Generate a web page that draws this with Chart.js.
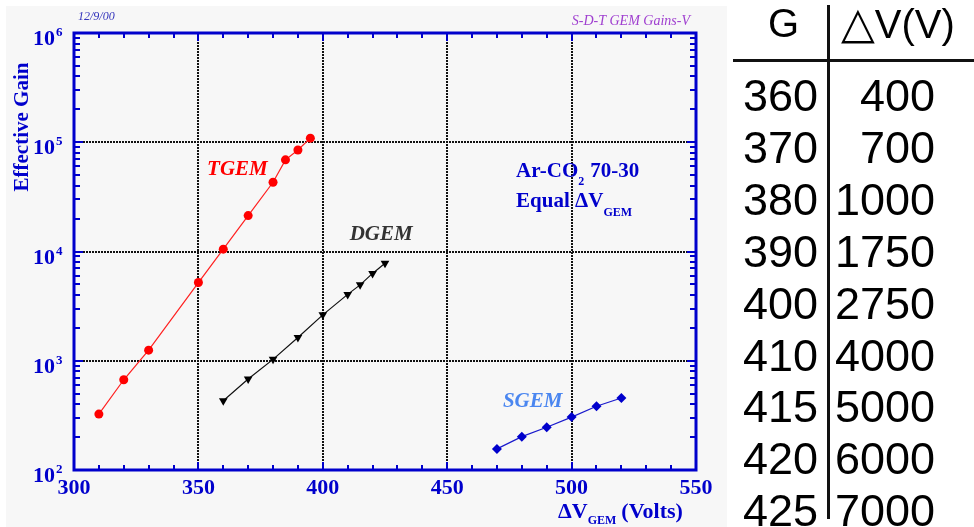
<!DOCTYPE html>
<html lang="en">
<head>
    <meta charset="UTF-8">
    <title>S-D-T GEM Gains-V</title>
    <style>
        body {
            margin: 0;
            background: #fff;
            width: 974px;
            height: 527px;
            overflow: hidden;
            position: relative;
        }
        #panel {
            position: absolute;
            left: 6px;
            top: 6px;
            width: 721px;
            height: 521px;
            background: #f7f7f7;
        }
        #graph {
            position: absolute;
            left: 0;
            top: 0;
        }
        #table {
            position: absolute;
            left: 0;
            top: 0;
            width: 974px;
            height: 527px;
            font-family: 'Liberation Sans', Arial, sans-serif;
            color: #000;
        }
        .cell {
            position: absolute;
            font-size: 45px;
            line-height: 1;
            white-space: nowrap;
        }
        .head {
            font-size: 40px;
        }
        .vline {
            position: absolute;
            left: 827px;
            top: 5px;
            width: 3px;
            height: 514px;
            background: #111;
        }
        .hline {
            position: absolute;
            left: 733px;
            top: 59px;
            width: 241px;
            height: 3px;
            background: #111;
        }
    </style>
    <script src="https://cdn.jsdelivr.net/npm/chart.js"></script>
</head>
<body>
    <div id="panel"></div>
    <canvas id="graph" width="730" height="527"></canvas>
    <div id="table">
        <div class="vline"></div>
        <div class="hline"></div>
    </div>
    <script>
        // data
        const tgemV = [310, 320, 330, 350, 360, 370, 380, 385, 390, 395];
        const tgemGain = [325, 670, 1250, 5200, 10500, 21300, 43000, 69000, 85000, 109000];
        const dgemV = [360, 370, 380, 390, 400, 410, 415, 420, 425];
        const dgemGain = [430, 680, 1030, 1630, 2630, 4050, 4950, 6300, 7800];
        const sgemV = [470, 480, 490, 500, 510, 520];
        const sgemGain = [156, 202, 246, 305, 383, 456];

        // table on the right
        const tableG = [360, 370, 380, 390, 400, 410, 415, 420, 425];
        const tableDV = [400, 700, 1000, 1750, 2750, 4000, 5000, 6000, 7000];

        const xTicks = [300, 350, 400, 450, 500, 550];
        const yDecades = [2, 3, 4, 5, 6];

        const BLUE = '#0000cc';
        const SERIF = "'Liberation Serif', 'Times New Roman', serif";

        // build the table
        const table = document.getElementById('table');
        function addCell(text, left, right, top, cls) {
            const d = document.createElement('div');
            d.className = 'cell' + (cls ? ' ' + cls : '');
            d.innerHTML = text;
            if (right !== null) {
                d.style.right = (974 - right) + 'px';
                d.style.textAlign = 'right';
            } else {
                d.style.left = left + 'px';
            }
            d.style.top = top + 'px';
            table.appendChild(d);
        }
        addCell('G', 768, null, 3, 'head');
        addCell('<span style="font-family:\'DejaVu Sans\';font-size:44px">&#9651;</span>V(V)', 841, null, 1, 'head');
        tableG.forEach((g, i) => {
            const top = 73 + i * 51.9;
            addCell(String(g), null, 818, top);
            addCell(String(tableDV[i]), null, 935, top);
        });

        function drawSub(ctx, parts, x, y) {
            // parts: [text, size, dy, gap]
            ctx.textAlign = 'left';
            ctx.textBaseline = 'alphabetic';
            parts.forEach(p => {
                ctx.font = 'bold ' + p[1] + 'px ' + SERIF;
                ctx.fillText(p[0], x, y + p[2]);
                x += ctx.measureText(p[0]).width + (p[3] || 0);
            });
        }

        const framePlugin = {
            id: 'frame',
            beforeDatasetsDraw(chart) {
                const ctx = chart.ctx;
                const a = chart.chartArea;
                const xs = chart.scales.x;
                const ys = chart.scales.y;
                ctx.save();
                ctx.strokeStyle = BLUE;
                ctx.lineWidth = 2;
                ctx.beginPath();
                // x ticks, bottom and top
                for (let v = 310; v < 550; v += 10) {
                    const px = Math.round(xs.getPixelForValue(v));
                    const len = v % 50 === 0 ? 8 : 5;
                    ctx.moveTo(px, a.bottom);
                    ctx.lineTo(px, a.bottom - len);
                    ctx.moveTo(px, a.top);
                    ctx.lineTo(px, a.top + len);
                }
                // y ticks, left and right
                for (let d = 2; d < 6; d++) {
                    for (let m = 1; m < 10; m++) {
                        if (d === 2 && m === 1) continue;
                        const py = Math.round(ys.getPixelForValue(m * Math.pow(10, d)));
                        const len = m === 1 ? 9 : 6;
                        ctx.moveTo(a.left, py);
                        ctx.lineTo(a.left + len, py);
                        ctx.moveTo(a.right, py);
                        ctx.lineTo(a.right - len, py);
                    }
                }
                ctx.stroke();
                ctx.lineWidth = 3;
                ctx.strokeRect(a.left, a.top, a.right - a.left, a.bottom - a.top);

                // y tick labels 10^n
                ctx.fillStyle = BLUE;
                yDecades.forEach(e => {
                    const py = ys.getPixelForValue(Math.pow(10, e));
                    ctx.font = 'bold 22px ' + SERIF;
                    ctx.textAlign = 'right';
                    ctx.textBaseline = 'alphabetic';
                    ctx.fillText('10', 55, py + 12);
                    ctx.font = 'bold 13px ' + SERIF;
                    ctx.textAlign = 'left';
                    ctx.fillText(String(e), 56, py + 3);
                });

                // y title
                ctx.save();
                ctx.translate(28, 127);
                ctx.rotate(-Math.PI / 2);
                ctx.font = 'bold 21px ' + SERIF;
                ctx.textAlign = 'center';
                ctx.fillText('Effective Gain', 0, 0);
                ctx.restore();

                // x title
                drawSub(ctx, [['\u0394V', 22, 0], ['GEM', 12, 6, 5], ['(Volts)', 22, 0]], 558, 518);

                // header texts
                ctx.font = 'italic 12px ' + SERIF;
                ctx.fillStyle = '#3333bb';
                ctx.textAlign = 'left';
                ctx.textBaseline = 'middle';
                ctx.fillText('12/9/00', 78, 17);
                ctx.font = 'italic 14px ' + SERIF;
                ctx.fillStyle = '#a040d0';
                ctx.textAlign = 'right';
                ctx.fillText('S-D-T GEM Gains-V', 690, 21);

                // series labels
                ctx.textAlign = 'left';
                ctx.textBaseline = 'alphabetic';
                ctx.font = 'italic bold 21px ' + SERIF;
                ctx.fillStyle = '#ff0000';
                ctx.fillText('TGEM', xs.getPixelForValue(353.5), ys.getPixelForValue(50000));
                ctx.fillStyle = '#333333';
                ctx.fillText('DGEM', xs.getPixelForValue(410.8), ys.getPixelForValue(12700));
                ctx.fillStyle = '#4a86f0';
                ctx.fillText('SGEM', xs.getPixelForValue(472.4), ys.getPixelForValue(378));

                ctx.fillStyle = BLUE;
                const gx = xs.getPixelForValue(477.7);
                drawSub(ctx, [['Ar-CO', 21, 0], ['2', 12, 8, 6], ['70-30', 21, 0]], gx, ys.getPixelForValue(48000));
                drawSub(ctx, [['Equal \u0394V', 21, 0], ['GEM', 12, 9]], gx, ys.getPixelForValue(25500));
                ctx.restore();
            }
        };

        const ctx = document.getElementById('graph').getContext('2d');
        const gainChart = new Chart(ctx, {
            type: 'scatter',
            data: {
                datasets: [{
                    label: 'TGEM',
                    data: tgemV.map((v, i) => ({x: v, y: tgemGain[i]})),
                    showLine: true,
                    borderColor: '#ff2020',
                    borderWidth: 1.2,
                    backgroundColor: '#ff0000',
                    pointStyle: 'circle',
                    pointRadius: 4.5,
                    pointBorderWidth: 0
                }, {
                    label: 'DGEM',
                    data: dgemV.map((v, i) => ({x: v, y: dgemGain[i]})),
                    showLine: true,
                    borderColor: '#111',
                    borderWidth: 1.2,
                    backgroundColor: '#000',
                    pointStyle: 'triangle',
                    pointRotation: 180,
                    pointRadius: 5,
                    pointBorderWidth: 0
                }, {
                    label: 'SGEM',
                    data: sgemV.map((v, i) => ({x: v, y: sgemGain[i]})),
                    showLine: true,
                    borderColor: '#1a1acc',
                    borderWidth: 1.2,
                    backgroundColor: '#0000cc',
                    pointStyle: 'rectRot',
                    pointRadius: 5,
                    pointBorderWidth: 0
                }]
            },
            options: {
                responsive: false,
                animation: false,
                devicePixelRatio: 1,
                layout: {
                    padding: {left: 0, top: 33, right: 34, bottom: 0}
                },
                plugins: {
                    legend: {display: false},
                    tooltip: {enabled: false}
                },
                scales: {
                    x: {
                        type: 'linear',
                        min: 300,
                        max: 550,
                        afterBuildTicks: (scale) => {
                            scale.ticks = xTicks.map(v => ({value: v}));
                        },
                        afterFit: (scale) => {
                            scale.height = 57;
                        },
                        grid: {
                            drawTicks: false,
                            lineWidth: 2,
                            color: (c) => (c.tick && c.tick.value > 300 && c.tick.value < 550) ? '#111' : 'rgba(0,0,0,0)'
                        },
                        border: {display: false, dash: [2, 1]},
                        ticks: {
                            padding: 5,
                            color: BLUE,
                            maxRotation: 0,
                            font: {family: SERIF, weight: 'bold', size: 22}
                        }
                    },
                    y: {
                        type: 'logarithmic',
                        min: 100,
                        max: 1000000,
                        afterBuildTicks: (scale) => {
                            scale.ticks = yDecades.map(e => ({value: Math.pow(10, e)}));
                        },
                        afterFit: (scale) => {
                            scale.width = 74;
                        },
                        grid: {
                            drawTicks: false,
                            lineWidth: 2,
                            color: (c) => (c.tick && c.tick.value > 100 && c.tick.value < 1000000) ? '#111' : 'rgba(0,0,0,0)'
                        },
                        border: {display: false, dash: [2, 1]},
                        ticks: {display: false}
                    }
                }
            },
            plugins: [framePlugin]
        });
    </script>
</body>
</html>
